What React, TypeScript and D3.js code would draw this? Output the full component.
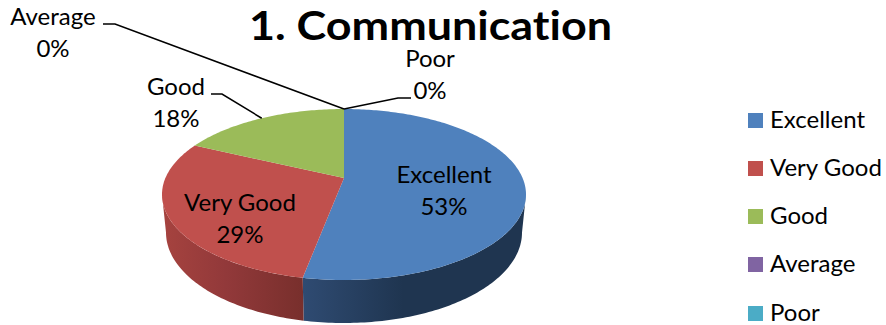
import React from "react";
import * as d3 from "d3";

const categories = ["Excellent", "Very Good", "Good", "Average", "Poor"];
const shares = [53, 29, 18, 0, 0];
const colors = ["#4f81bd", "#c0504d", "#9bbb59", "#8064a2", "#4bacc6"];
const sideStops = [
  ["#2f4b72", "#1f3550", "#1f3550"],
  ["#a6433f", "#92393a", "#782f2c"],
  ["#7d9747", "#6e8540", "#5f7335"],
];
const titleText = "1. Communication";
const FONT = "Lato, Carlito, Calibri, sans-serif";

const W = 886, H = 325;
const cx = 344, cy = 194.5, halfW = 182, halfH = 85.5, tilt = -0.193;
const bottomCy = 232.5, bottomHalfW = 178, bottomHalfH = 90.5;

// perspective projection of a circular rim on to an ellipse
function project(angle: number, yc = cy, a = halfW, b = halfH): [number, number] {
  const u = Math.sin(angle), v = -Math.cos(angle);
  const w = 1 + tilt * v;
  return [cx + (u * a * Math.sqrt(1 - tilt * tilt)) / w, yc + (b * (v + tilt)) / w];
}
const apex: [number, number] = [cx, cy + halfH * tilt];

const arcPoints = (a0: number, a1: number, fn: (a: number) => [number, number]) => {
  const n = Math.max(2, Math.ceil(Math.abs(a1 - a0) * 60));
  return d3.range(n + 1).map((i) => fn(a0 + ((a1 - a0) * i) / n));
};
const line = d3.line();
const pieAngles = d3.pie<number>().sort(null).startAngle(0).endAngle(2 * Math.PI)(shares);

const topRim = (a: number) => project(a);
const bottomRim = (a: number) => project(a, bottomCy, bottomHalfW, bottomHalfH);
const silhouetteFrom = Math.acos(tilt);
const silhouetteTo = 2 * Math.PI - silhouetteFrom;

const labelFont = 24;
const lineGap = 32;
const sliceLabels = [
  { i: 0, x: 444, y: 183 },
  { i: 1, x: 240, y: 211 },
  { i: 2, x: 176, y: 95 },
  { i: 3, x: 53, y: 25 },
  { i: 4, x: 430, y: 67 },
];
const leaderElbows: Record<number, [number, number][]> = {
  2: [[222, 94], [211, 94]],
  3: [[115, 24], [103, 24]],
  4: [[398, 98], [411, 98]],
};
const legendRows = [113, 161, 209, 257, 306];

export default function App() {
  return (
    <svg
      width={W}
      height={H}
      viewBox={`0 0 ${W} ${H}`}
      style={{ position: "absolute", left: 0, top: 0, background: "#fff", fontFamily: FONT, fontVariantLigatures: "none" }}
    >
      <defs>
        {sideStops.map((s, i) => (
          <linearGradient key={i} id={`side${i}`} x1="0" x2="1" y1="0" y2="0">
            <stop offset="0" stopColor={s[0]} />
            <stop offset="0.45" stopColor={s[1]} />
            <stop offset="1" stopColor={s[2]} />
          </linearGradient>
        ))}
      </defs>
      {pieAngles.map((p, i) => {
        const lo = Math.max(p.startAngle, silhouetteFrom);
        const hi = Math.min(p.endAngle, silhouetteTo);
        if (hi <= lo) return null;
        const pts = [...arcPoints(lo, hi, topRim), ...arcPoints(hi, lo, bottomRim)];
        return <path key={i} d={line(pts)! + "Z"} fill={`url(#side${i})`} />;
      })}
      {pieAngles.map((p, i) =>
        p.endAngle - p.startAngle > 0 ? (
          <path
            key={i}
            d={line([apex, ...arcPoints(p.startAngle, p.endAngle, topRim)])! + "Z"}
            fill={colors[i]}
          />
        ) : null
      )}
      {sliceLabels
        .filter((l) => leaderElbows[l.i])
        .map((l) => {
          const p = pieAngles[l.i];
          const anchor = project((p.startAngle + p.endAngle) / 2);
          return (
            <path
              key={l.i}
              d={line([anchor, ...leaderElbows[l.i]])!}
              fill="none"
              stroke="#000"
              strokeWidth={1.5}
            />
          );
        })}
      <text
        x={430.5}
        y={40}
        textAnchor="middle"
        fontSize={41}
        fontWeight={700}
        fill="#000"
        textLength={363}
        lengthAdjust="spacingAndGlyphs"
      >
        {titleText}
      </text>
      {sliceLabels.map((l) => (
        <text key={l.i} textAnchor="middle" fontSize={labelFont} fill="#000">
          <tspan x={l.x} y={l.y}>{categories[l.i]}</tspan>
          <tspan x={l.x} y={l.y + lineGap}>{shares[l.i]}%</tspan>
        </text>
      ))}
      {categories.map((c, i) => (
        <g key={c}>
          <rect x={748} y={legendRows[i]} width={15} height={15} fill={colors[i]} />
          <text x={770} y={legendRows[i] + 15} fontSize={labelFont} fill="#000">{c}</text>
        </g>
      ))}
    </svg>
  );
}
